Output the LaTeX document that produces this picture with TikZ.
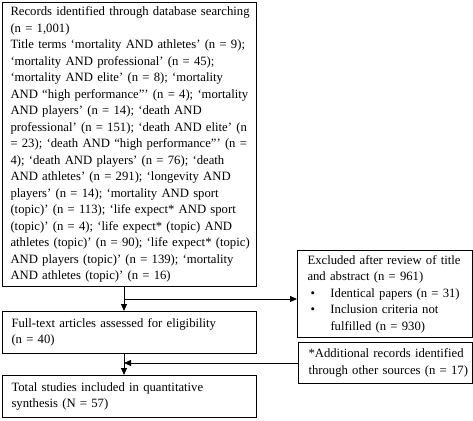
\documentclass[tikz,border=0pt]{standalone}
\usepackage{fontspec}
\setmainfont{Liberation Serif}
\usepackage{tikz}
\usetikzlibrary{calc,arrows.meta}

\begin{document}
\begin{tikzpicture}[x=1pt, y=-1pt, >={Triangle[length=7pt,width=6pt]},
  box/.style={draw, line width=1pt, anchor=north west, align=left, inner ysep=3pt,
    font=\fontsize{12.7}{16.5}\selectfont,
    execute at begin node={\rightskip=-14pt plus 1fil\hyphenpenalty=10000}},
  arr/.style={->, line width=1pt}]
  \useasboundingbox (0,0) rectangle (473,420);

  % Records from database search
  \node[box, inner xsep=8pt, text width=238pt, minimum height=284pt] (records) at (2,2) {%
    Records identified through database searching\\
    (n = 1,001)\\
    Title terms ‘mortality AND athletes’ (n = 9);\\
    ‘mortality AND professional’ (n = 45);\\
    ‘mortality AND elite’ (n = 8); ‘mortality\\
    AND “high performance”’ (n = 4); ‘mortality\\
    AND players’ (n = 14); ‘death AND\\
    professional’ (n = 151); ‘death AND elite’ (n\\
    = 23); ‘death AND “high performance”’ (n =\\
    4); ‘death AND players’ (n = 76); ‘death\\
    AND athletes’ (n = 291); ‘longevity AND\\
    players’ (n = 14); ‘mortality AND sport\\
    (topic)’ (n = 113); ‘life expect* AND sport\\
    (topic)’ (n = 4); ‘life expect* (topic) AND\\
    athletes (topic)’ (n = 90); ‘life expect* (topic)\\
    AND players (topic)’ (n = 139); ‘mortality\\
    AND athletes (topic)’ (n = 16)};

  % Full-text and final boxes
  \node[box, inner xsep=9pt, text width=236pt, minimum height=42pt] (fulltext) at (2,311) {%
    Full-text articles assessed for eligibility\\
    (n = 40)};
  \node[box, inner xsep=9pt, text width=236pt, minimum height=42pt] (total) at (2,375) {%
    Total studies included in quantitative\\
    synthesis (N = 57)};

  % Excluded records
  \node[box, inner xsep=10pt, text width=155pt, minimum height=87pt] (excluded) at (297,250) {%
    Excluded after review of title\\
    and abstract (n = 961)\\
    \hspace*{3pt}\makebox[20pt][l]{\textbullet}Identical papers (n = 31)\\
    \hspace*{3pt}\makebox[20pt][l]{\textbullet}Inclusion criteria not\\
    \hspace*{23pt}fulfilled (n = 930)};

  % Additional records
  \node[box, inner xsep=10pt, text width=154pt, minimum height=41pt] (additional) at (298,342) {%
    *Additional records identified\\
    through other sources (n = 17)};

  % Connectors
  \coordinate (trunk) at (124,0);
  \coordinate (split) at (124,299);
  \draw[arr] (records.south -| trunk) -- (fulltext.north -| trunk);
  \draw[arr] (split) -- (split -| excluded.west);
  \draw[arr] (fulltext.south -| trunk) -- (total.north -| trunk);
  \draw[arr] (additional.west) -- (additional.west -| trunk);
\end{tikzpicture}
\end{document}
